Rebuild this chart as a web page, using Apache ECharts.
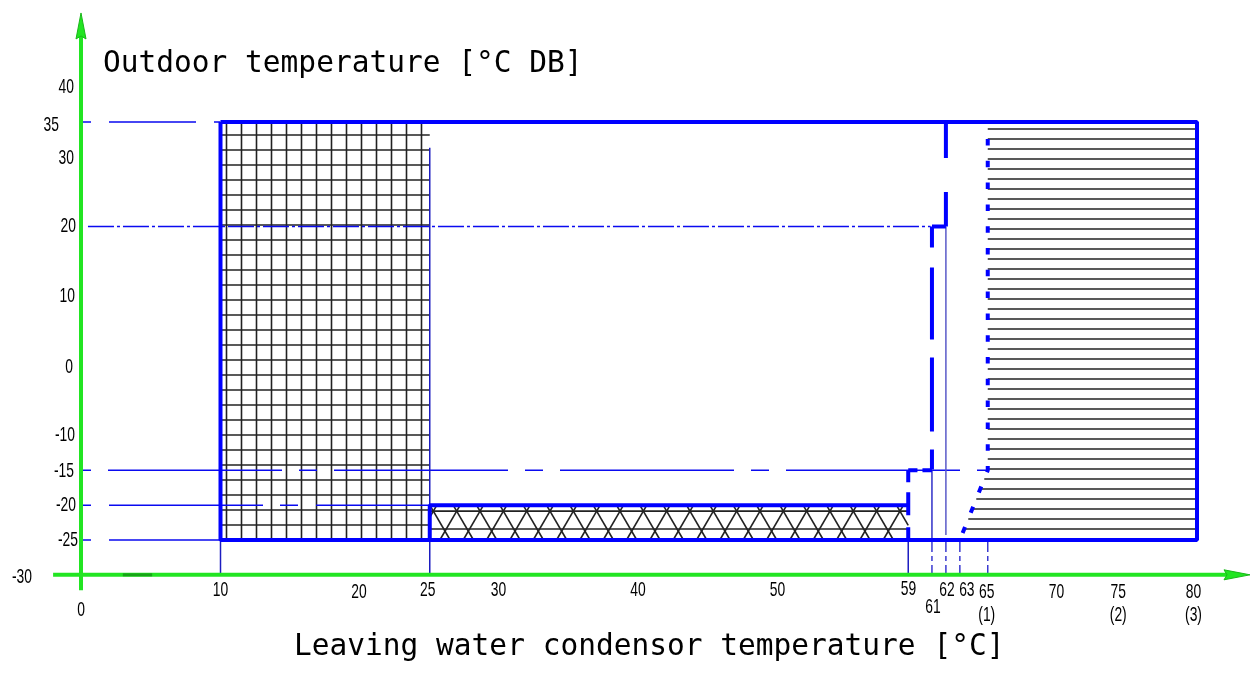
<!DOCTYPE html>
<html>
<head>
<meta charset="utf-8">
<title>Operating envelope</title>
<script src="https://cdn.jsdelivr.net/npm/echarts/dist/echarts.min.js"></script>
<style>
  html, body { margin: 0; padding: 0; background: #fff; }
  #chart { width: 1260px; height: 679px; }
</style>
</head>
<body>
<div id="chart"></div>
<script>
// ---- data ----
const xTicks = [0, 10, 20, 25, 30, 40, 50, 59, 61, 62, 63, 65, 70, 75, 80]
const xTickText = ['0', '10', '20', '25', '30', '40', '50', '59', '61', '62', '63', '65\n(1)', '70', '75\n(2)', '80\n(3)']
const yTicks = [40, 35, 30, 20, 10, 0, -10, -15, -20, -25, -30]

// envelope outline (thick blue)
const boxOutline = [[10, 35], [80, 35], [80, -25], [10, -25], [10, 35]]
const lowZoneOutline = [[25, -25], [25, -20], [59.3, -20]]

// hatched zones: [xFrom, xTo, yFrom, yTo]
const gridZone = [10, 25, -25, 35]
const crossZone = [25, 59.3, -25, -20]
const ruledZone = [65, 80, -25, 35]
const ruledEdge = [[65, 35], [65, -15], [63, -25]]

// thick dashed step 62 -> 61 -> 59
const stepX62 = [[62, 35], [62, 20]]
const stepY20 = [[62, 20], [61, 20]]
const stepX61 = [[61, 20], [61, -15]]
const stepY15 = [[61, -15], [59.3, -15]]
const stepX59 = [[59.3, -15], [59.3, -25]]

// thin guide lines from the temperature axis
const guide35 = [[0, 35], [10, 35]]
const guide20 = [[0.5, 20], [60.9, 20]]
const guideM15 = [[0, -15], [65, -15]]
const guideM20 = [[0, -20], [25, -20]]
const guideM25 = [[0, -25], [10, -25]]

// thin vertical lines
const solidDrops = [[[10, -25], [10, -30]], [[25, 31.3], [25, -30]], [[59.3, -25], [59.3, -30]]]
const line62 = [[62, 20], [62, -24.3]]
const line61 = [[61, -15], [61, -25]]
const dashedDropX = [61, 62, 63, 65]

// green axes [x1, y1, x2, y2]
const axisLines = [[-2, -30, 83.8, -30], [0, -32.2, 0, 50.65]]
const axisMark = [[3, -30], [5.1, -30]]

// ---- drawing ----
const thick = '#0000ff'
const thin = '#0a0af0'
const hatch = { stroke: '#222', lineWidth: 1.6 }
const labelFont = '21px "Liberation Sans", Arial, sans-serif'
const squeeze = 0.66

// label nudges in px: [dx, dy of first line centre below the axis]
const xNudge = { '0': [0, 35], '10': [0, 15], '20': [-1, 17], '25': [-2, 15], '30': [-1, 15], '40': [-1, 15],
  '50': [-1, 15], '59': [4.5, 14], '61': [1, 32], '62': [1, 15], '63': [7, 15], '65': [-1, 17],
  '70': [-1, 17], '75': [-9, 17], '80': [-3.5, 17] }
const yNudge = { '40': [-7, 0], '35': [-22, 3], '30': [-7, 1], '20': [-5, 0], '10': [-6, 0], '0': [-8, 1],
  '-10': [-6, 0], '-15': [-7, 1], '-20': [-5, 0], '-25': [-3, 0], '-30': [-49, 2] }

function seg(x1, y1, x2, y2, style) {
  return { type: 'line', shape: { x1: x1, y1: y1, x2: x2, y2: y2 }, style: style }
}

function txt(x, y, text, align) {
  return {
    type: 'text',
    x: x,
    y: y,
    scaleX: squeeze,
    style: {
      text: text,
      font: labelFont,
      fill: '#000',
      align: align,
      verticalAlign: 'middle',
      textAlign: align,
      textVerticalAlign: 'middle'
    }
  }
}

function clipX(p, q, lo, hi) {
  let t0 = 0
  let t1 = 1
  const dx = q[0] - p[0]
  if (dx !== 0) {
    let ta = (lo - p[0]) / dx
    let tb = (hi - p[0]) / dx
    if (ta > tb) { const t = ta; ta = tb; tb = t }
    t0 = Math.max(t0, ta)
    t1 = Math.min(t1, tb)
  }
  if (t0 >= t1) return null
  const dy = q[1] - p[1]
  return [p[0] + dx * t0, p[1] + dy * t0, p[0] + dx * t1, p[1] + dy * t1]
}

function corners(api) {
  return [api.coord([api.value(0), api.value(3)]), api.coord([api.value(1), api.value(2)])]
}

function renderSquareHatch(params, api) {
  const [a, b] = corners(api)
  const kids = []
  for (let x = a[0] + 6; x < b[0] - 3; x += 15) kids.push(seg(x, a[1], x, b[1], hatch))
  for (let y = b[1] - 15; y > a[1] + 5; y -= 15) kids.push(seg(a[0], y, b[0], y, hatch))
  return { type: 'group', children: kids }
}

function renderCrossHatch(params, api) {
  const [a, b] = corners(api)
  const kids = []
  const yc = a[1] + 6
  const step = 23.33
  const m = 0.583
  kids.push(seg(a[0], yc, b[0], yc, hatch))
  kids.push(seg(a[0], b[1] - 11, b[0], b[1] - 11, hatch))
  for (let c = a[0] + 3.6 - 2 * step; c < b[0] + 2 * step; c += step) {
    [m, -m].forEach(function(s) {
      const p = [c + s * (a[1] - yc), a[1]]
      const q = [c + s * (b[1] - yc), b[1]]
      const r = clipX(p, q, a[0], b[0])
      if (r) kids.push(seg(r[0], r[1], r[2], r[3], hatch))
    })
  }
  return { type: 'group', children: kids }
}

function renderRuled(params, api) {
  const [a, b] = corners(api)
  const edge = ruledEdge.map(function(p) { return api.coord(p) })
  const kids = []
  for (let y = a[1] + 7; y < b[1] - 4; y += 10) {
    let left = edge[0][0]
    for (let i = 0; i < edge.length - 1; i++) {
      const p = edge[i]
      const q = edge[i + 1]
      if (y >= p[1] && y <= q[1]) {
        left = p[0] + (q[0] - p[0]) * (y - p[1]) / (q[1] - p[1])
      }
    }
    kids.push(seg(left, y, b[0] - 2, y, hatch))
  }
  return { type: 'group', children: kids }
}

function renderAxis(params, api) {
  const p = api.coord([api.value(0), api.value(1)])
  const q = api.coord([api.value(2), api.value(3)])
  const len = Math.hypot(q[0] - p[0], q[1] - p[1])
  const u = [(q[0] - p[0]) / len, (q[1] - p[1]) / len]
  const n = [-u[1], u[0]]
  const head = 26
  const half = 5
  const base = [q[0] - u[0] * head, q[1] - u[1] * head]
  const notch = [base[0] + u[0] * 3, base[1] + u[1] * 3]
  const green = '#22e522'
  return {
    type: 'group',
    children: [
      seg(p[0], p[1], q[0] - u[0] * 18, q[1] - u[1] * 18, { stroke: green, lineWidth: 4 }),
      {
        type: 'polygon',
        shape: { points: [q, [base[0] + n[0] * half, base[1] + n[1] * half], notch, [base[0] - n[0] * half, base[1] - n[1] * half]] },
        style: { fill: green, stroke: '#19b819', lineWidth: 1 }
      }
    ]
  }
}

function renderXLabel(params, api) {
  const i = api.value(2)
  const pt = api.coord([api.value(0), api.value(1)])
  const lines = xTickText[i].split('\n')
  const nud = xNudge[lines[0]] || [0, 15]
  const kids = lines.map(function(s, k) {
    return txt(pt[0] + nud[0], pt[1] + nud[1] + k * 23, s, 'center')
  })
  return { type: 'group', children: kids }
}

function renderYLabel(params, api) {
  const v = api.value(1)
  const pt = api.coord([api.value(0), v])
  const nud = yNudge[String(v)] || [-7, 0]
  return txt(pt[0] + nud[0], pt[1] + nud[1], String(v), 'right')
}

function path(data, width, color, dash, offset, z) {
  return {
    type: 'line',
    data: data,
    symbol: 'none',
    silent: true,
    clip: false,
    z: z || 3,
    lineStyle: { width: width, color: color, type: dash || 'solid', dashOffset: offset || 0, cap: 'butt', opacity: 1 }
  }
}

const series = []

series.push({ type: 'custom', renderItem: renderSquareHatch, data: [gridZone], z: 1, silent: true, clip: false })
series.push({ type: 'custom', renderItem: renderCrossHatch, data: [crossZone], z: 1, silent: true, clip: false })
series.push({ type: 'custom', renderItem: renderRuled, data: [ruledZone], z: 1, silent: true, clip: false })

// guide lines
series.push(path(guide35, 1.5, thin, [87, 18, 18, 18], 113, 2))
series.push(path(guide20, 1.5, thin, [26, 3, 3, 3], 0, 2))
series.push(path(guideM15, 1.5, thin, [174, 17, 18, 17], 199, 2))
series.push(path(guideM20, 1.5, thin, [154, 17, 18, 18], 179, 2))
series.push(path(guideM25, 1.5, thin, [154, 17, 18, 18], 179, 2))

// thin verticals
solidDrops.forEach(function(d) { series.push(path(d, 1.5, '#1c1cc0', 'solid', 0, 2)) })
series.push(path(line62, 1.5, '#5a5ac8', 'solid', 0, 2))
series.push(path(line61, 1.5, '#3030c8', 'solid', 0, 2))
dashedDropX.forEach(function(x) {
  series.push(path([[x, -25], [x, -30]], 1.5, '#3a3ad0', [12, 4, 5, 4], 0, 2))
})

// envelope
series.push(path(boxOutline, 4, thick, 'solid', 0, 4))
series.push(path(lowZoneOutline, 4, thick, 'solid', 0, 4))
series.push(path(stepX62, 4, thick, [36, 34], 0, 4))
series.push(path(stepY20, 4, thick, 'solid', 0, 4))
series.push(path(stepX61, 4, thick, [21, 20, 72, 18, 74, 18, 20, 20], 0, 4))
series.push(path(stepY15, 4, thick, [9.5, 5], 0, 4))
series.push(path(stepX59, 4, thick, [12, 10, 23, 12], 0, 4))
series.push(path(ruledEdge, 4, thick, [6.5, 15.3], 4.8, 4))

// axes
series.push({ type: 'custom', renderItem: renderAxis, data: axisLines, z: 5, silent: true, clip: false })
series.push(path(axisMark, 3, '#17a417', 'solid', 0, 6))

// tick labels
series.push({
  type: 'custom',
  renderItem: renderXLabel,
  data: xTicks.map(function(v, i) { return [v, -30, i] }),
  z: 7,
  silent: true,
  clip: false
})
series.push({
  type: 'custom',
  renderItem: renderYLabel,
  data: yTicks.map(function(v) { return [0, v] }),
  z: 7,
  silent: true,
  clip: false
})

const chart = echarts.init(document.getElementById('chart'))
chart.setOption({
  animation: false,
  backgroundColor: '#fff',
  title: [
    {
      text: 'Outdoor temperature [°C DB]',
      left: 103,
      top: 49,
      padding: 0,
      textStyle: { fontFamily: '"DejaVu Sans Mono", monospace', fontSize: 29.5, fontWeight: 'normal', color: '#000' }
    },
    {
      text: 'Leaving water condensor temperature [°C]',
      left: 294,
      top: 632,
      padding: 0,
      textStyle: { fontFamily: '"DejaVu Sans Mono", monospace', fontSize: 29.5, fontWeight: 'normal', color: '#000' }
    }
  ],
  grid: { left: 53.1, top: 10.53, width: 1199.7, height: 578.23 },
  xAxis: { type: 'value', min: -2, max: 84, show: false },
  yAxis: { type: 'value', min: -32, max: 51, show: false },
  series: series
})
</script>
</body>
</html>
